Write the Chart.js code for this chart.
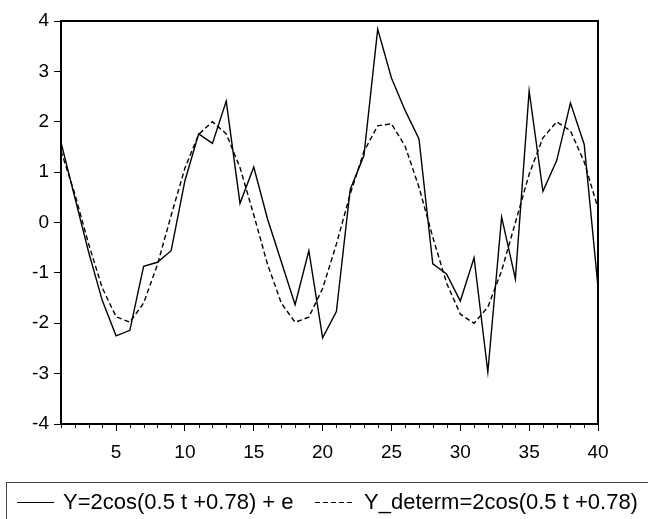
<!DOCTYPE html>
<html>
<head>
<meta charset="utf-8">
<script src="https://cdn.jsdelivr.net/npm/chart.js@4.4.1/dist/chart.umd.min.js"></script>
<style>
  html, body { margin: 0; padding: 0; background: #fff; }
  #wrap { position: relative; width: 648px; height: 519px; overflow: hidden; }
  #legenda {
    position: absolute; left: 6px; top: 482px; width: 680px; height: 60px;
    border: 1px solid #444; box-sizing: border-box;
    font-family: "Liberation Sans", Arial, sans-serif; font-size: 22px; color: #000;
  }
  #legenda .item { position: absolute; top: 6px; white-space: nowrap; }
  #legenda .amostra { position: absolute; top: 19px; height: 1.4px; }
  #legenda .solida { background: #000; }
  #legenda .tracejada { background: repeating-linear-gradient(to right, #000 0 5px, transparent 5px 8px); }
</style>
</head>
<body>
<div id="wrap">
  <canvas id="grafico" width="648" height="519"></canvas>
  <div id="legenda">
    <div class="amostra solida" style="left:10px; width:37px;"></div>
    <div class="item" style="left:56px;">Y=2cos(0.5 t +0.78) + e</div>
    <div class="amostra tracejada" style="left:308px; width:39px;"></div>
    <div class="item" style="left:357px;">Y_determ=2cos(0.5 t +0.78)</div>
  </div>
</div>
<script>
const periodos = [1, 2, 3, 4, 5, 6, 7, 8, 9, 10, 11, 12, 13, 14, 15, 16, 17, 18, 19, 20,
                  21, 22, 23, 24, 25, 26, 27, 28, 29, 30, 31, 32, 33, 34, 35, 36, 37, 38, 39, 40];
const serieY = [1.59, 0.50, -0.58, -1.55, -2.25, -2.14, -0.87, -0.79, -0.56, 0.83,
                1.76, 1.57, 2.41, 0.38, 1.10, 0.07, -0.78, -1.63, -0.56, -2.29,
                -1.77, 0.65, 1.33, 3.84, 2.87, 2.22, 1.66, -0.82, -1.02, -1.56,
                -0.70, -2.97, 0.11, -1.12, 2.61, 0.62, 1.23, 2.37, 1.55, -1.28];
const serieDeterm = [1.42, 0.57, -0.42, -1.30, -1.87, -1.98, -1.60, -0.84, 0.14, 1.08,
                     1.75, 2.00, 1.76, 1.09, 0.15, -0.83, -1.60, -1.98, -1.88, -1.31,
                     -0.43, 0.56, 1.41, 1.92, 1.96, 1.51, 0.70, -0.29, -1.20, -1.82,
                     -2.00, -1.68, -0.96, 0.00, 0.96, 1.68, 2.00, 1.82, 1.20, 0.28];
const ticksX = [5, 10, 15, 20, 25, 30, 35, 40];
const ticksY = [-4, -3, -2, -1, 0, 1, 2, 3, 4];

const fonteEixo = { family: '"Liberation Sans", Arial, sans-serif', size: 19 };

// moldura e tracinhos menores do eixo x
const moldura = {
    id: 'moldura',
    afterDraw(chart) {
        const { ctx, chartArea: a, scales } = chart;
        ctx.save();
        ctx.strokeStyle = '#000';
        ctx.lineWidth = 1;
        periodos.forEach(p => {
            if (ticksX.includes(p)) return;
            const x = Math.round(scales.x.getPixelForValue(p)) + 0.5;
            ctx.beginPath();
            ctx.moveTo(x, a.bottom);
            ctx.lineTo(x, a.bottom + 4);
            ctx.stroke();
        });
        ctx.lineWidth = 2;
        ctx.strokeRect(a.left, a.top, a.right - a.left, a.bottom - a.top);
        ctx.restore();
    }
};

new Chart(document.getElementById('grafico'), {
    type: 'line',
    data: {
        datasets: [
            {
                label: 'Y=2cos(0.5 t +0.78) + e',
                data: periodos.map((p, i) => ({ x: p, y: serieY[i] })),
                borderColor: '#000', borderWidth: 1.4, pointRadius: 0, tension: 0
            },
            {
                label: 'Y_determ=2cos(0.5 t +0.78)',
                data: periodos.map((p, i) => ({ x: p, y: serieDeterm[i] })),
                borderColor: '#000', borderWidth: 1.4, borderDash: [5, 3], pointRadius: 0, tension: 0
            }
        ]
    },
    options: {
        responsive: false,
        animation: false,
        layout: { padding: { top: 21, right: 50, bottom: 0, left: 0 } },
        plugins: { legend: { display: false }, tooltip: { enabled: false } },
        scales: {
            x: {
                type: 'linear', min: 1, max: 40,
                afterBuildTicks: s => { s.ticks = ticksX.map(v => ({ value: v })); },
                afterFit: s => { s.height = 95; },
                grid: { drawOnChartArea: false, tickLength: 7, tickColor: '#000', lineWidth: 1 },
                border: { display: false },
                ticks: { color: '#000', font: fonteEixo, padding: 10, maxRotation: 0, autoSkip: false }
            },
            y: {
                min: -4, max: 4,
                afterBuildTicks: s => { s.ticks = ticksY.map(v => ({ value: v })); },
                afterFit: s => { s.width = 61; },
                grid: { drawOnChartArea: false, tickLength: 7, tickColor: '#000', lineWidth: 1 },
                border: { display: false },
                ticks: { color: '#000', font: fonteEixo, padding: 5 }
            }
        }
    },
    plugins: [moldura]
});
</script>
</body>
</html>
